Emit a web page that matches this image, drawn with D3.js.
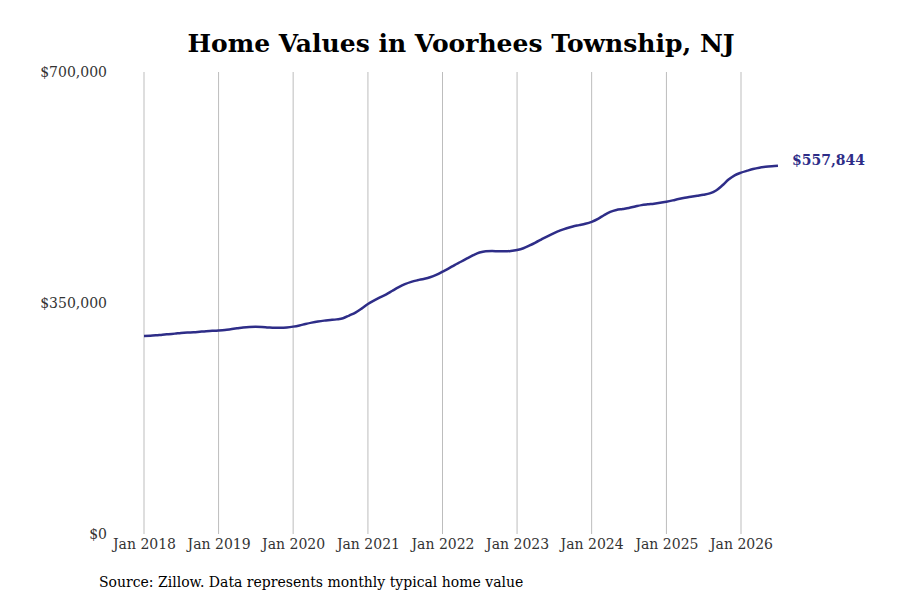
<!DOCTYPE html>
<html>
<head>
<meta charset="utf-8">
<script src="https://cdn.jsdelivr.net/npm/d3@7"></script>
<style>
  body { margin: 0; background: #fff; }
  svg { font-family: "DejaVu Serif", serif; }
</style>
</head>
<body>
<div id="chart"></div>
<script>
// monthly typical home value, Jan 2018 .. Jul 2026
const startMonth = "2018-01";
const homeValues = [
    300000, 300300, 301000, 302000, 302800, 303600, 304500, 305200, 305700, 306500, 307300, 307800,
    308400, 309200, 310300, 311600, 313000, 313800, 314000, 313700, 313000, 312500, 312500, 313000,
    314200, 316000, 318200, 320300, 322000, 323300, 324200, 325200, 326800, 331000, 335500, 341500,
    348500, 354000, 358500, 363000, 368500, 374000, 378500, 382000, 384500, 386500, 389000, 392500,
    397500, 402500, 407500, 412500, 417500, 422500, 426500, 428500, 428800, 428400, 428300, 428800,
    430300, 433000, 436800, 441500, 446500, 451500, 456000, 460000, 463300, 466000, 468000, 470000,
    473000, 477500, 483000, 488000, 491000, 492500, 494000, 496200, 498300, 499500, 500500, 501800,
    503500, 505500, 507500, 509500, 511000, 512500, 514000, 516000, 520500, 528000, 537000, 543500,
    547500, 550500, 553000, 555000, 556300, 557200, 557844
];
const yTicks = [0, 350000, 700000];
const xTickYears = [2018, 2019, 2020, 2021, 2022, 2023, 2024, 2025, 2026];

const width = 900, height = 600;
const parseMonth = d3.timeParse("%Y-%m");
const start = parseMonth(startMonth);
const data = homeValues.map((v, i) => ({ date: d3.timeMonth.offset(start, i), value: v }));

const svg = d3.select("#chart")
    .append("svg")
    .attr("width", width)
    .attr("height", height);

const x = d3.scaleTime()
    .domain([new Date(2018, 0, 1), new Date(2026, 0, 1)])
    .range([144, 741]);

const y = d3.scaleLinear()
    .domain([0, 700000])
    .range([534, 72]);

svg.append("text")
    .attr("x", 461)
    .attr("y", 52)
    .attr("text-anchor", "middle")
    .style("font-size", "25px")
    .style("font-weight", "bold")
    .style("fill", "#000")
    .text("Home Values in Voorhees Township, NJ");

// vertical grid lines at each January
const xTicks = xTickYears.map(yr => new Date(yr, 0, 1));
svg.append("g")
    .selectAll("line")
    .data(xTicks)
    .enter().append("line")
    .attr("x1", d => x(d))
    .attr("x2", d => x(d))
    .attr("y1", y(700000))
    .attr("y2", y(0))
    .attr("stroke", "#bdbdbd")
    .attr("stroke-width", 1);

const xAxis = svg.append("g")
    .attr("transform", `translate(0, ${y(0)})`)
    .call(d3.axisBottom(x).tickValues(xTicks).tickFormat(d3.timeFormat("%b %Y")).tickSize(0).tickPadding(5));
xAxis.select(".domain").remove();
xAxis.selectAll("text")
    .style("font-family", "DejaVu Serif, serif")
    .style("font-size", "14px")
    .style("fill", "#333");

const yAxis = svg.append("g")
    .attr("transform", "translate(107, 0)")
    .call(d3.axisLeft(y).tickValues(yTicks).tickFormat(d => "$" + d3.format(",")(d)).tickSize(0).tickPadding(0));
yAxis.select(".domain").remove();
yAxis.selectAll("text")
    .style("font-family", "DejaVu Serif, serif")
    .style("font-size", "14px")
    .style("fill", "#333");

const line = d3.line()
    .x(d => x(d.date))
    .y(d => y(d.value))
    .curve(d3.curveMonotoneX);

svg.append("path")
    .datum(data)
    .attr("fill", "none")
    .attr("stroke", "#2e2d88")
    .attr("stroke-width", 2.5)
    .attr("d", line);

const last = data[data.length - 1];
svg.append("text")
    .attr("x", x(last.date) + 14)
    .attr("y", y(last.value) - 5)
    .attr("dominant-baseline", "middle")
    .style("font-size", "14px")
    .style("font-weight", "bold")
    .style("fill", "#2e2d88")
    .text("$" + d3.format(",")(last.value));

svg.append("text")
    .attr("x", 99)
    .attr("y", 587)
    .style("font-size", "14px")
    .style("fill", "#000")
    .text("Source: Zillow. Data represents monthly typical home value");
</script>
</body>
</html>
